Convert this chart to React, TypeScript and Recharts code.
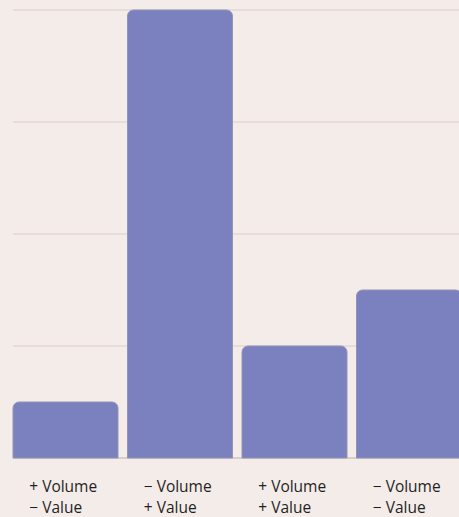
import React from "react";
import { BarChart, Bar, XAxis, YAxis, CartesianGrid } from "recharts";

const categories = ["a", "b", "c", "d"];
const volumeLabels = ["+ Volume", "− Volume", "+ Volume", "− Volume"];
const valueLabels = ["− Value", "+ Value", "+ Value", "− Value"];
const values = [0.5, 4, 1, 1.5];
const yTicks = [0, 1, 2, 3, 4];

const data = categories.map((c, i) => ({ cat: c, v: values[i] }));

const Tick = (props: any) => {
  const { x, y, index } = props;
  return (
    <g>
      <text
        x={x - 36}
        y={y + 33.5}
        textAnchor="start"
        fontFamily="'Open Sans', sans-serif"
        fontSize={15.5}
        fill="#1f1f1f"
      >
        {volumeLabels[index]}
      </text>
      <text
        x={x - 36}
        y={y + 54.5}
        textAnchor="start"
        fontFamily="'Open Sans', sans-serif"
        fontSize={15.5}
        fill="#1f1f1f"
      >
        {valueLabels[index]}
      </text>
    </g>
  );
};

const gridLine = (p: any) => {
  const isBase = Math.abs(p.y1 - 458) < 1;
  return (
    <line
      key={`g-${p.y1}`}
      x1={p.x1}
      x2={p.x2}
      y1={p.y1}
      y2={p.y2}
      stroke={isBase ? "#cdc4c0" : "#e2d9d6"}
      strokeWidth={1.5}
    />
  );
};

export default function App() {
  return (
    <div
      style={{
        position: "absolute",
        left: 0,
        top: 0,
        width: 459,
        height: 517,
        overflow: "hidden",
        background: "#f4ece9",
      }}
    >
      <BarChart
        width={466}
        height={517}
        data={data}
        margin={{ top: 10, right: 0, bottom: 0, left: 8 }}
      >
        <CartesianGrid
          vertical={false}
          horizontal={gridLine}
          x={13}
          width={460}
        />
        <XAxis
          dataKey="cat"
          height={59}
          axisLine={false}
          tickLine={false}
          tickSize={0}
          tickMargin={0}
          interval={0}
          tick={<Tick />}
        />
        <YAxis hide domain={[0, 4]} ticks={yTicks} />
        <Bar
          dataKey="v"
          fill="#7b80bf"
          stroke="#9593b5"
          strokeWidth={1}
          barSize={105}
          radius={[6, 6, 0, 0]}
          isAnimationActive={false}
        />
      </BarChart>
    </div>
  );
}
